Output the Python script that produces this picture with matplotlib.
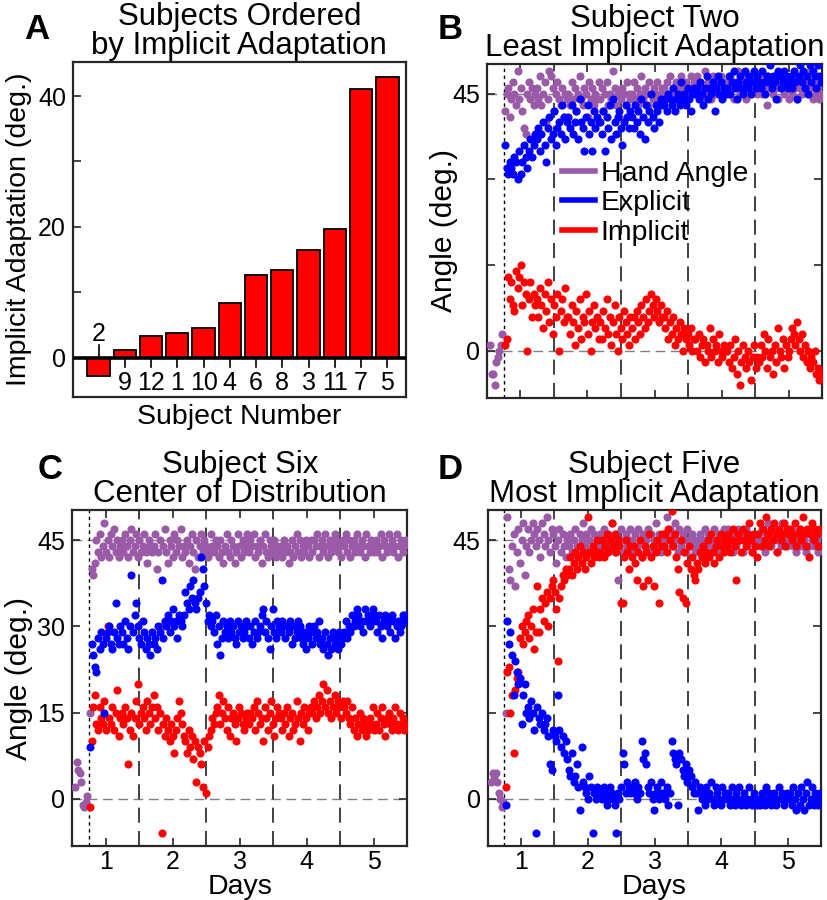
import numpy as np
import matplotlib
matplotlib.use('Agg')
import matplotlib.pyplot as plt
from matplotlib.lines import Line2D

plt.rcParams['font.family'] = ['Liberation Sans', 'DejaVu Sans']

PURPLE = '#9A5AA8'
BLUE = '#0000FF'
RED = '#FF0000'

# ---------------- panel A : implicit adaptation per subject
subjects = ['2', '9', '12', '1', '10', '4', '6', '8', '3', '11', '7', '5']
implicit_adapt = [-2.8, 1.2, 3.3, 3.8, 4.6, 8.4, 12.6, 13.4, 16.5, 19.6, 41.1, 42.9]

# ---------------- trial timeline (days): 9 baseline trials, 200 rotation trials
base_days = np.linspace(0.55, 0.73, 9)
train_days = np.linspace(0.77, 5.48, 200)

# ---------------- panel B : subject two
b_base_hand = [1, -4, -4, -6, -2, -1, 0, 1, 3]
b_hand = [
    42, 45, 46, 41, 44, 47, 45, 43, 49, 44, 46, 42, 39, 38, 45, 47, 44, 46, 43, 45,
    46, 44, 48, 43, 45, 47, 40, 44, 49, 48, 46, 42, 45, 47, 44, 43, 46, 41, 45, 44,
    45, 43, 47, 44, 46, 42, 45, 48, 44, 43, 46, 45, 41, 47, 44, 46, 43, 45, 44, 47,
    44, 46, 42, 45, 47, 43, 45, 44, 49, 46, 43, 45, 41, 44, 46, 45, 43, 47, 45, 44,
    45, 47, 44, 46, 43, 45, 48, 44, 46, 45, 43, 47, 45, 44, 46, 45, 47, 44, 45, 46,
    46, 44, 47, 45, 48, 45, 46, 44, 47, 46, 45, 48, 44, 46, 47, 45, 46, 48, 45, 47,
    46, 48, 45, 47, 44, 46, 49, 45, 47, 46, 44, 48, 46, 45, 47, 46, 48, 45, 46, 47,
    47, 45, 48, 46, 44, 47, 46, 49, 45, 47, 46, 48, 44, 46, 47, 45, 48, 46, 47, 45,
    46, 48, 45, 47, 46, 43, 48, 46, 47, 45, 48, 46, 44, 47, 46, 48, 45, 47, 46, 44,
    47, 45, 48, 46, 44, 47, 46, 45, 48, 46, 47, 45, 49, 46, 44, 47, 45, 46, 44, 45]
b_explicit = [
    36, 32, 31, 33, 32, 31, 34, 33, 30, 35, 31, 33, 36, 34, 32, 35, 37, 34, 36, 38,
    37, 39, 35, 38, 40, 36, 33, 39, 41, 37, 38, 42, 36, 39, 40, 38, 43, 41, 37, 40,
    41, 39, 43, 38, 40, 42, 37, 44, 40, 39, 35, 41, 43, 38, 40, 35, 42, 39, 41, 40,
    40, 38, 42, 35, 41, 39, 43, 37, 44, 40, 38, 41, 42, 39, 36, 40, 43, 41, 39, 42,
    41, 39, 43, 40, 42, 38, 44, 41, 37, 43, 40, 42, 45, 41, 39, 43, 42, 40, 44, 43,
    43, 44, 42, 45, 44, 43, 46, 42, 44, 45, 43, 47, 44, 45, 43, 46, 44, 42, 45, 46,
    45, 46, 44, 47, 45, 43, 46, 48, 44, 46, 45, 47, 42, 46, 48, 45, 47, 44, 46, 45,
    46, 48, 45, 47, 49, 46, 44, 47, 48, 46, 45, 49, 47, 46, 48, 45, 47, 49, 46, 48,
    47, 46, 49, 47, 45, 48, 47, 50, 46, 48, 47, 44, 49, 48, 46, 47, 49, 48, 46, 47,
    48, 46, 49, 47, 44, 48, 50, 47, 49, 46, 48, 45, 50, 47, 49, 48, 46, 50, 48, 47]
b_implicit = [
    1, 2, 13, 9, 12, 8, 7, 14, 11, 13, 15, 8, 12, 10, 0, 9, 12, 6, 10, 8,
    9, 6, 11, 8, 4, 10, 7, 12, 5, 9, 3, 8, 6, 10, 0, 7, 9, 5, 11, 6,
    6, 3, 8, 5, 1, 7, 4, 9, 2, 6, 5, 10, 3, 7, 0, 5, 8, 4, 6, 2,
    5, 2, 7, 4, 9, 3, 6, 1, 5, 8, 3, 0, 6, 4, 2, 7, 5, 3, 1, 6,
    4, 6, 2, 7, 5, 3, 8, 6, 4, 9, 5, 7, 10, 8, 6, 9, 7, 5, 8, 6,
    6, 4, 7, 2, 5, 3, 6, 1, 4, 2, 5, 3, 0, 4, 2, 3, 1, 4, 0, 2,
    2, 0, 3, -1, 1, 2, -2, 1, 0, 4, -1, 2, 0, 1, -2, 3, 0, -1, 1, 0,
    0, -2, 1, -3, -1, 2, -4, 0, -6, -2, 1, -1, -3, 0, -2, -5, -1, 1, -3, -1,
    -2, 1, -1, 3, 0, -3, 2, -1, 0, -4, 1, -2, 4, 0, -1, 2, -3, 1, -1, 0,
    2, 4, 3, 1, 5, 2, 0, 3, -1, 1, -2, 0, -3, -1, -2, 0, -4, -3, -5, -4]

# ---------------- panel C : subject six
c_base_hand = [2, 6.5, 5, 4.5, 3, -1, -1.5, -0.5, 0.5]
c_hand = [
    15, 40, 39, 41, 45, 43, 46, 42, 44, 48, 43, 45, 42, 46, 44, 47, 43, 45, 42, 44,
    45, 43, 46, 44, 42, 45, 47, 43, 44, 46, 42, 45, 43, 44, 46, 43, 41, 45, 44, 43,
    44, 46, 40, 43, 45, 30, 44, 47, 43, 41, 45, 44, 42, 46, 43, 45, 44, 47, 42, 44,
    43, 45, 41, 44, 46, 43, 40, 45, 42, 44, 46, 43, 45, 44, 42, 43, 46, 44, 43, 45,
    44, 42, 45, 43, 41, 44, 46, 43, 42, 45, 44, 41, 43, 46, 44, 42, 45, 43, 44, 46,
    43, 45, 44, 46, 42, 44, 43, 45, 41, 44, 46, 43, 42, 45, 44, 43, 45, 42, 44, 43,
    44, 42, 45, 43, 44, 41, 43, 45, 42, 44, 46, 43, 45, 42, 44, 43, 45, 44, 42, 45,
    43, 45, 44, 46, 42, 44, 45, 43, 46, 44, 42, 45, 43, 44, 46, 45, 43, 44, 42, 45,
    44, 46, 43, 45, 42, 44, 45, 43, 46, 44, 43, 45, 44, 42, 46, 44, 43, 45, 44, 43,
    45, 43, 44, 46, 42, 45, 44, 43, 46, 44, 45, 43, 44, 46, 42, 44, 45, 43, 44, 45]
c_explicit = [
    9, 27, 25, 23, 22, 28, 26, 29, 27, 15, 28, 29, 30, 27, 26, 29, 34, 28, 27, 30,
    29, 27, 31, 28, 26, 30, 39, 29, 32, 34, 30, 28, 27, 31, 29, 26, 28, 27, 25, 29,
    27, 28, 26, 30, 29, 38, 28, 31, 30, 32, 29, 31, 33, 30, 31, 28, 32, 31, 30, 32,
    36, 34, 33, 37, 35, 38, 34, 33, 35, 36, 42, 40, 37, 34, 31, 32, 30, 31, 29, 32,
    27, 30, 25, 28, 31, 29, 30, 28, 31, 29, 30, 28, 27, 31, 29, 30, 28, 29, 31, 30,
    28, 30, 27, 29, 31, 28, 29, 30, 32, 33, 29, 31, 28, 26, 30, 33, 29, 28, 31, 30,
    29, 31, 30, 28, 30, 29, 31, 27, 30, 28, 29, 31, 30, 28, 27, 29, 26, 28, 30, 29,
    27, 30, 28, 29, 31, 27, 28, 26, 29, 27, 25, 28, 26, 29, 27, 28, 26, 29, 27, 28,
    29, 31, 28, 30, 29, 32, 30, 31, 33, 32, 30, 31, 29, 33, 31, 32, 30, 31, 33, 32,
    31, 29, 32, 30, 28, 31, 32, 30, 31, 29, 32, 31, 28, 30, 31, 29, 30, 32, 31, 32]
c_implicit = [
    -1.5, 10, 16, 18, 13, 12, 16, 14, 13, 17, 12, 30, 14, 13, 16, 12, 15, 19, 11, 14,
    15, 13, 16, 14, 6, 12, 15, 11, 14, 17, 20, 13, 15, 16, 14, 12, 17, 15, 13, 16,
    18, 14, 16, 12, 15, -6, 13, 11, 14, 12, 10, 13, 11, 8, 12, 14, 17, 15, 13, 11,
    10, 8, 12, 9, 11, 7, 10, 3, 9, 8, 6, 2, 10, 1, 9, 11, 12, 14, 13, 15,
    16, 18, 13, 15, 17, 14, 12, 16, 11, 14, 15, 13, 10, 14, 16, 15, 13, 12, 14, 15,
    13, 15, 14, 16, 12, 17, 15, 13, 14, 10, 16, 14, 12, 15, 17, 13, 11, 14, 16, 15,
    14, 12, 15, 13, 16, 11, 14, 15, 12, 13, 17, 14, 10, 15, 13, 16, 14, 12, 15, 16,
    15, 17, 14, 16, 18, 15, 17, 20, 16, 19, 15, 17, 14, 16, 18, 15, 17, 16, 14, 17,
    16, 15, 17, 14, 13, 16, 12, 14, 11, 13, 15, 12, 14, 13, 11, 12, 14, 13, 16, 12,
    13, 15, 12, 14, 16, 13, 11, 14, 15, 13, 12, 14, 16, 13, 12, 15, 13, 14, 12, 13]

# ---------------- panel D : subject five
d_base_hand = [3, 4.5, 4, 4.5, 3, 1, 0, -1.5, -0.5]
d_hand = [
    15, 49, 40, 38, 44, 46, 37, 43, 47, 41, 45, 48, 39, 44, 47, 43, 45, 48, 46, 44,
    47, 45, 42, 48, 46, 44, 49, 45, 43, 47, 46, 44, 41, 45, 47, 43, 46, 44, 42, 45,
    44, 46, 43, 45, 47, 44, 42, 46, 45, 48, 44, 46, 43, 45, 47, 44, 46, 43, 45, 44,
    46, 44, 47, 45, 43, 46, 44, 48, 45, 43, 46, 38, 44, 47, 45, 43, 46, 44, 45, 47,
    45, 43, 46, 44, 47, 45, 42, 46, 44, 45, 47, 43, 46, 44, 45, 48, 44, 46, 43, 45,
    44, 46, 49, 45, 47, 44, 46, 48, 45, 43, 47, 44, 46, 45, 43, 47, 45, 44, 46, 45,
    43, 45, 44, 46, 42, 45, 47, 44, 46, 43, 45, 44, 47, 45, 43, 46, 44, 45, 47, 44,
    45, 47, 44, 46, 43, 45, 44, 47, 45, 46, 43, 45, 47, 44, 46, 45, 43, 46, 44, 45,
    46, 44, 47, 45, 43, 46, 48, 45, 44, 46, 47, 45, 43, 46, 44, 48, 45, 46, 44, 47,
    45, 47, 44, 46, 43, 45, 47, 44, 46, 45, 43, 46, 44, 47, 45, 44, 46, 45, 43, 46]
d_explicit = [
    -1, 31, 27, 29, 25, 18, 24, 22, 20, 21, 13, 18, 20, 15, 16, 14, 17, 15, 12, -6,
    16, 14, 13, 15, 12, 13, 14, 11, 6, 5, 12, 11, 10, 18, 12, 9, 11, 8, 10, 7,
    5, 4, 8, 3, 4, 6, 2, -2, 9, 3, 2, 1, 0, 4, 2, -6, 1, 0, 2, 1,
    1, 0, 2, 1, -1, 0, 2, 1, 0, -1, -6, 1, 0, 2, 8, 6, 1, 3, 2, 1,
    2, 1, 3, 0, 2, 1, 10, 7, 8, 6, 2, 1, 3, 0, -2, 1, 2, 0, 3, 1,
    1, 0, 2, -1, 1, 10, 8, 7, 6, -1, 8, 7, 5, 4, 6, 3, 5, 4, 2, 1,
    3, 1, -2, 2, 0, 1, -1, 2, 0, 1, 3, 0, -1, 2, 1, 0, -1, 2, 0, 1,
    0, 1, -1, 2, 0, -1, 1, 0, 2, -1, 0, 1, -1, 0, 2, 0, -1, 1, 0, -1,
    0, -1, 1, 0, -1, 2, 0, 1, -1, 0, 1, -1, 0, 2, 0, 1, -1, 0, 1, 0,
    1, -1, 2, 0, -2, 1, -1, 2, 0, -2, 1, 3, -1, 0, 2, -1, 1, 0, -1, 1]
d_implicit = [
    2, 22, 23, 15, 18, 8, 19, 21, 22, 28, 30, 27, 29, 31, 32, 28, 30, 33, 26, 29,
    37, 29, 33, 35, 31, 34, 36, 30, 35, 37, 38, 36, 33, 24, 35, 37, 39, 38, 40, 39,
    40, 42, 39, 41, 43, 40, 42, 44, 41, 43, 40, 42, 49, 43, 41, 44, 42, 43, 45, 42,
    43, 45, 42, 44, 46, 43, 45, 48, 44, 46, 43, 45, 44, 34, 34, 42, 45, 43, 40, 44,
    42, 44, 41, 38, 43, 45, 42, 37, 44, 43, 38, 46, 42, 44, 37, 43, 45, 34, 44, 46,
    44, 46, 43, 47, 45, 50, 44, 46, 42, 40, 36, 45, 35, 43, 34, 41, 44, 40, 42, 39,
    38, 41, 40, 43, 42, 44, 41, 43, 45, 42, 46, 43, 41, 44, 45, 42, 46, 44, 43, 45,
    44, 46, 43, 45, 47, 44, 38, 46, 45, 43, 47, 45, 44, 46, 48, 45, 43, 46, 44, 42,
    46, 48, 44, 47, 45, 49, 46, 44, 47, 45, 48, 46, 43, 47, 45, 46, 48, 44, 47, 46,
    47, 45, 46, 48, 44, 46, 47, 45, 49, 46, 44, 47, 42, 46, 48, 45, 47, 46, 44, 47]

TICK_FS = 18
LABEL_FS = 20.5
ANGLE_FS = 21.5
TITLE_FS = 22.5
DOT = 34


def frame(ax):
    for sp in ax.spines.values():
        sp.set_linewidth(1.6)
        sp.set_color('#262626')


def scatter_panel(ax, base_hand, hand, explicit, implicit, title, ylab, xlab, all_ylabels):
    frame(ax)
    # reference lines
    ax.axhline(0, color='#808080', lw=1, ls=(0, (7, 4)), zorder=1)
    ax.axhline(45, color='#808080', lw=1, ls=(0, (7, 4)), zorder=1)
    ax.axvline(0.75, color='k', lw=1, ls=(0, (2.5, 2.5)), zorder=1)
    for d in [1.5, 2.5, 3.5, 4.5]:
        ax.axvline(d, color='#202020', lw=1.2, ls=(0, (9, 5)), zorder=1)

    ax.scatter(base_days, base_hand, s=DOT, color=PURPLE, linewidths=0, zorder=3)
    ax.scatter(train_days, hand, s=DOT, color=PURPLE, linewidths=0, zorder=3)
    ax.scatter(train_days, implicit, s=DOT, color=RED, linewidths=0, zorder=4)
    ax.scatter(train_days, explicit, s=DOT, color=BLUE, linewidths=0, zorder=5)

    ax.set_xlim(0.5, 5.5)
    ax.set_ylim(-8.2, 50.2)
    ax.set_xticks([1, 2, 3, 4, 5])
    ax.set_yticks([0, 15, 30, 45])
    if all_ylabels:
        ax.set_yticklabels(['0', '15', '30', '45'])
    else:
        ax.set_yticklabels(['0', '', '', '45'])
    ax.tick_params(direction='in', length=6, width=1.2, top=True, right=True,
                   labelsize=TICK_FS, pad=5, color='#262626')
    ax.tick_params(axis='x', pad=3)
    if not xlab:
        ax.set_xticklabels([])
    else:
        ax.set_xlabel('Days', fontsize=LABEL_FS)
        ax.xaxis.set_label_coords(0.5, -0.083)
    if ylab:
        ax.set_ylabel('Angle (deg.)', fontsize=ANGLE_FS)
    ax.set_title(title, fontsize=TITLE_FS, linespacing=0.95, pad=6)


fig = plt.figure(figsize=(8.28, 9), dpi=100)

# ---- A
axA = fig.add_axes([0.088, 0.559, 0.402, 0.372])
frame(axA)
pos = np.arange(1, len(subjects) + 1)
axA.bar(pos, implicit_adapt, width=0.85, color=RED, edgecolor='k', linewidth=1.3, zorder=2)
axA.axhline(0, color='k', lw=2.6, zorder=3)
for x, lab, v in zip(pos, subjects, implicit_adapt):
    if v < 0:
        axA.plot([x, x], [0, 2.0], color='k', lw=1.2, zorder=3)
        axA.text(x, 3.6, lab, ha='center', va='center', fontsize=TICK_FS)
    else:
        axA.plot([x, x], [0, -1.5], color='k', lw=1.2, zorder=3)
        axA.text(x, -3.9, lab, ha='center', va='center', fontsize=TICK_FS)
axA.set_xlim(0.02, 12.7)
axA.set_ylim(-6, 45.2)
axA.set_xticks([])
axA.set_yticks([0, 10, 20, 30, 40])
axA.set_yticklabels(['0', '', '20', '', '40'])
axA.tick_params(axis='y', direction='in', length=6, width=1.2, labelsize=TICK_FS, pad=5,
                color='#262626')
axA.set_ylabel('Implicit Adaptation (deg.)', fontsize=LABEL_FS)
axA.yaxis.set_label_coords(-0.122, 0.5)
axA.set_xlabel('Subject Number', fontsize=LABEL_FS)
axA.xaxis.set_label_coords(0.5, -0.02)
axA.set_title('Subjects Ordered\nby Implicit Adaptation', fontsize=TITLE_FS,
              linespacing=0.95, pad=6)

# ---- B
axB = fig.add_axes([0.588, 0.558, 0.405, 0.371])
scatter_panel(axB, b_base_hand, b_hand, b_explicit, b_implicit,
              'Subject Two\nLeast Implicit Adaptation', True, False, False)
axB.yaxis.set_label_coords(-0.087, 0.5)
handles = [Line2D([0], [0], color=PURPLE, lw=4),
           Line2D([0], [0], color=BLUE, lw=4),
           Line2D([0], [0], color=RED, lw=4)]
axB.legend(handles, ['Hand Angle', 'Explicit', 'Implicit'], loc='upper left',
           bbox_to_anchor=(0.225, 0.71), frameon=False, fontsize=20.5,
           handlelength=1.15, handletextpad=0.2, labelspacing=0.12,
           borderpad=0, borderaxespad=0)

# ---- C
axC = fig.add_axes([0.087, 0.06, 0.405, 0.373])
scatter_panel(axC, c_base_hand, c_hand, c_explicit, c_implicit,
              'Subject Six\nCenter of Distribution', True, True, True)
axC.yaxis.set_label_coords(-0.116, 0.5)

# ---- D
axD = fig.add_axes([0.589, 0.06, 0.403, 0.373])
scatter_panel(axD, d_base_hand, d_hand, d_explicit, d_implicit,
              'Subject Five\nMost Implicit Adaptation', False, True, False)

# panel letters
for lab, x, y in [('A', 0.044, 0.967), ('B', 0.5435, 0.967),
                  ('C', 0.060, 0.478), ('D', 0.5435, 0.478)]:
    fig.text(x, y, lab, fontsize=25, fontweight='bold', ha='center', va='center')

fig.savefig('out.png', dpi=100)
